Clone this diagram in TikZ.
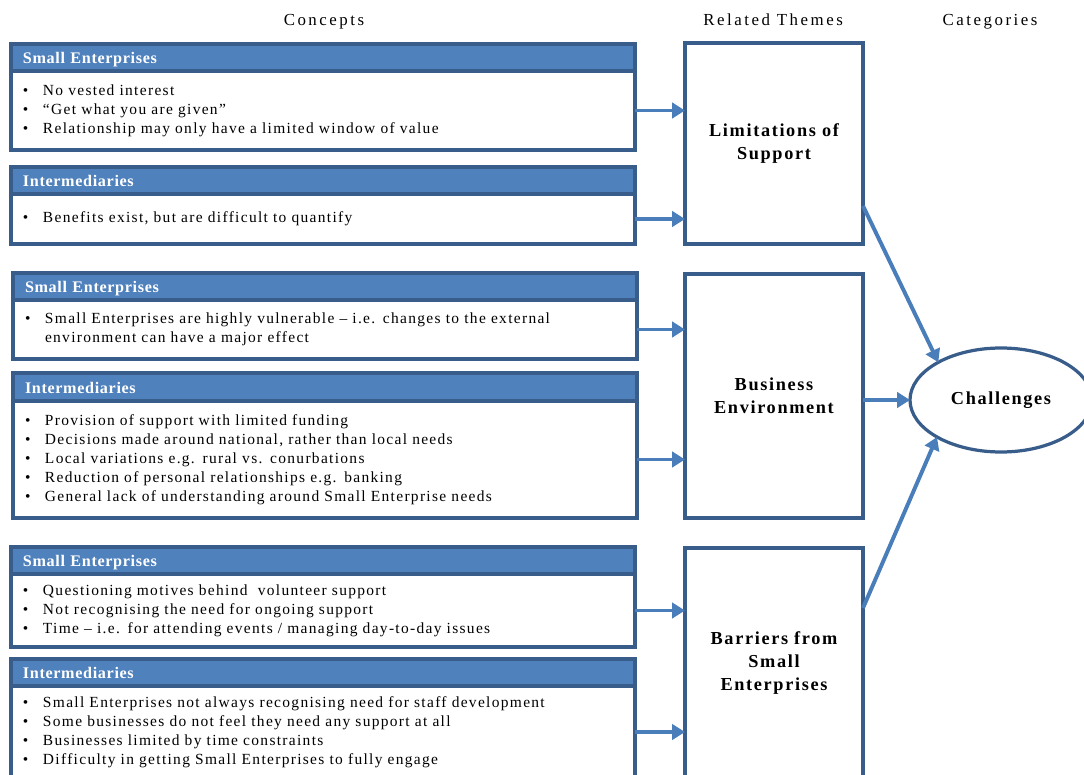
\documentclass[tikz,border=0pt]{standalone}
\usepackage{fontspec}
\setmainfont[LetterSpace=8.5]{Liberation Serif}
\usetikzlibrary{arrows.meta,shapes.geometric}

\definecolor{hdblue}{RGB}{79,129,189}
\definecolor{rimblue}{RGB}{56,93,138}
\definecolor{arblue}{RGB}{74,126,187}

\newcommand{\itm}[1]{\makebox[0.5cm][l]{\textbullet}#1}

\begin{document}
\begin{tikzpicture}[
    >={Triangle[length=0.32cm,width=0.38cm]},
    every node/.style={outer sep=0pt},
    head/.style={draw=rimblue, line width=2.3pt, fill=hdblue, text=white,
      font=\fontsize{11.5}{13}\selectfont\bfseries\addfontfeature{LetterSpace=4},
      anchor=north west, minimum width=15.6cm, minimum height=0.675cm,
      text width=15cm, text height=0.9em, text depth=0pt,
      inner xsep=0.3cm, align=left},
    body/.style={draw=rimblue, line width=2.3pt, fill=white, anchor=north,
      font=\fontsize{11}{13.5}\selectfont, minimum width=15.6cm,
      text width=15cm, inner xsep=0.3cm, align=left},
    theme/.style={draw=rimblue, line width=2.3pt, anchor=north west,
      minimum width=4.45cm, text width=4cm, align=center,
      font=\fontsize{13}{16.3}\selectfont\bfseries\addfontfeature{LetterSpace=9}},
    colhead/.style={anchor=base,
      font=\fontsize{12}{14}\selectfont\addfontfeature{LetterSpace=15}},
    arr/.style={->, draw=arblue, line width=2.8pt}
  ]
  \useasboundingbox (0,0) rectangle (27.1,-19.375);
  \clip (0,0) rectangle (27.1,-19.375);

  % column titles
  \node[colhead] (tc) at (8.1,-0.65) {Concepts};
  \node[colhead] (tt) at (19.33,-0.65) {Related Themes};
  \node[colhead] (tk) at (24.75,-0.65) {Categories};

  % concepts: limitations of support
  \node[head] (seh1) at (0.275,-1.1) {Small Enterprises};
  \node[body, minimum height=1.975cm] (seb1) at (seh1.south) {%
    \itm{No vested interest}\\
    \itm{``Get what you are given''}\\
    \itm{Relationship may only have a limited window of value}};
  \node[head] (inh1) at (0.275,-4.175) {Intermediaries};
  \node[body, minimum height=1.25cm] (inb1) at (inh1.south) {%
    \itm{Benefits exist, but are difficult to quantify}};

  % concepts: business environment
  \node[head] (seh2) at (0.325,-6.825) {Small Enterprises};
  \node[body, minimum height=1.475cm] (seb2) at (seh2.south) {%
    \itm{Small Enterprises are highly vulnerable -- i.e. changes to the external}\\
    \hspace*{0.5cm}environment can have a major effect};
  \node[head, minimum height=0.7cm] (inh2) at (0.325,-9.325) {Intermediaries};
  \node[body, minimum height=2.925cm] (inb2) at (inh2.south) {%
    \itm{Provision of support with limited funding}\\
    \itm{Decisions made around national, rather than local needs}\\
    \itm{Local variations e.g. rural vs. conurbations}\\
    \itm{Reduction of personal relationships e.g. banking}\\
    \itm{General lack of understanding around Small Enterprise needs}};

  % concepts: barriers
  \node[head] (seh3) at (0.275,-13.675) {Small Enterprises};
  \node[body, minimum height=1.825cm] (seb3) at (seh3.south) {%
    \itm{Questioning motives behind\ \ volunteer support}\\
    \itm{Not recognising the need for ongoing support}\\
    \itm{Time -- i.e. for attending events / managing day-to-day issues}};
  \node[head] (inh3) at (0.275,-16.475) {Intermediaries};
  \node[body, minimum height=2.3cm] (inb3) at (inh3.south) {%
    \itm{Small Enterprises not always recognising need for staff development}\\
    \itm{Some businesses do not feel they need any support at all}\\
    \itm{Businesses limited by time constraints}\\
    \itm{Difficulty in getting Small Enterprises to fully engage}};

  % related themes
  \node[theme, minimum height=5.025cm] (lim) at (17.125,-1.075) {Limitations of\\Support};
  \node[theme, minimum height=6.1cm] (bus) at (17.125,-6.85) {Business\\Environment};
  \node[theme, minimum height=5.75cm] (bar) at (17.125,-13.7) {Barriers from\\Small\\Enterprises};

  % category
  \node[ellipse, draw=rimblue, line width=2.3pt, minimum width=4.55cm,
    minimum height=2.6cm,
    font=\fontsize{13}{15}\selectfont\bfseries\addfontfeature{LetterSpace=9}]
    (chal) at (25.025,-10) {Challenges};

  \draw[arr] (seb1.east) -- (lim.west |- seb1.east);
  \draw[arr] (inb1.east) -- (lim.west |- inb1.east);
  \draw[arr] (seb2.east) -- (bus.west |- seb2.east);
  \draw[arr] (inb2.east) -- (bus.west |- inb2.east);
  \draw[arr] (seb3.east) -- (bar.west |- seb3.east);
  \draw[arr] (inb3.east) -- (bar.west |- inb3.east);

  \draw[arr] ([yshift=-1.56cm]lim.east) -- (chal.149);
  \draw[arr] (bus.east |- chal.west) -- (chal.west);
  \draw[arr] ([yshift=1.375cm]bar.east) -- (chal.210);
\end{tikzpicture}
\end{document}
